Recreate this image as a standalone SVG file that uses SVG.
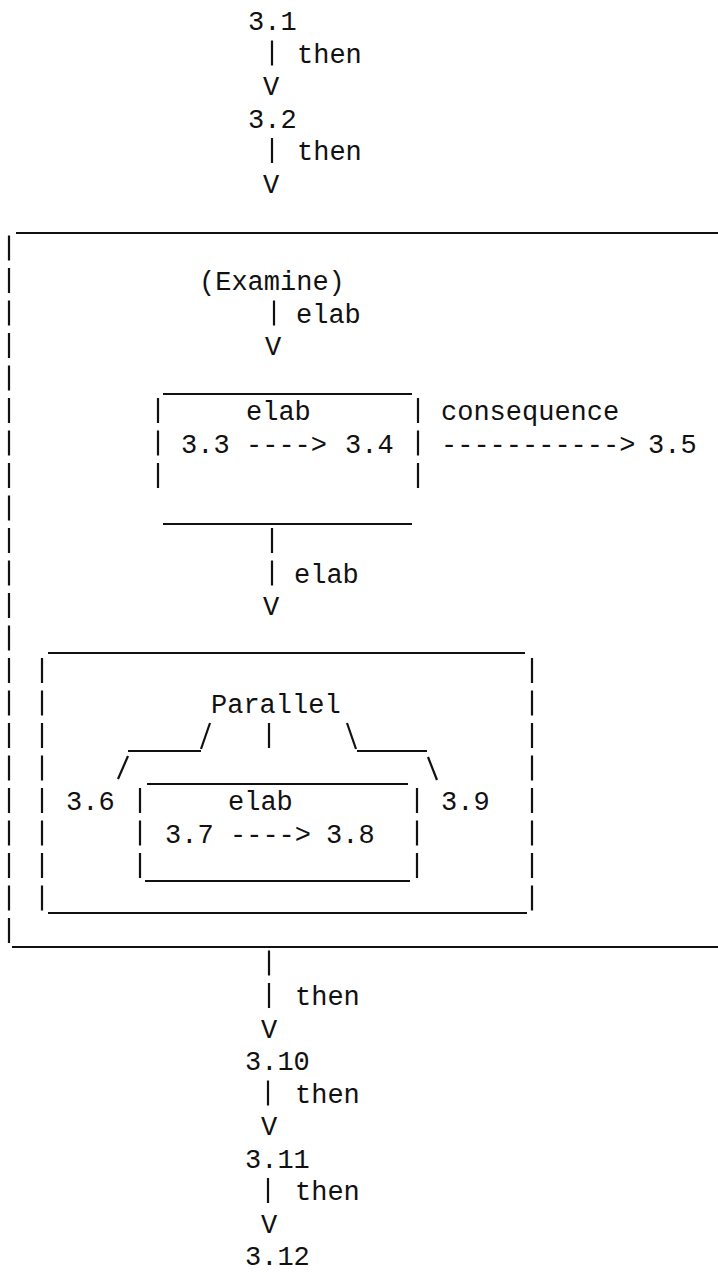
<svg xmlns="http://www.w3.org/2000/svg" width="718" height="1273" viewBox="0 0 718 1273">
<style>
text{font-family:"Liberation Mono","DejaVu Sans Mono",monospace;font-size:27px;fill:#111}
.v{text-anchor:middle}
.ln{stroke:#111;stroke-width:2.2;fill:none}
.dash{stroke:#111;stroke-width:2.2;fill:none;stroke-dasharray:25 7.5}
</style>
<rect width="718" height="1273" fill="#fff"/>

<g id="clusters">
  <g id="outer-box">
    <line class="ln" x1="16" y1="233" x2="718" y2="233"/>
    <line class="dash" x1="9" y1="235.5" x2="9" y2="943"/>
    <line class="ln" x1="12" y1="947" x2="718" y2="947"/>
  </g>
  <g id="box-3-3">
    <line class="ln" x1="163" y1="394" x2="412" y2="394"/>
    <line class="dash" x1="158" y1="398" x2="158" y2="488"/>
    <line class="dash" x1="418" y1="398" x2="418" y2="488"/>
    <line class="ln" x1="163" y1="524" x2="412" y2="524"/>
  </g>
  <g id="parallel-box">
    <line class="ln" x1="48" y1="653" x2="525" y2="653"/>
    <line class="dash" x1="42" y1="658" x2="42" y2="910.5"/>
    <line class="dash" x1="532" y1="658" x2="532" y2="910.5"/>
    <line class="ln" x1="48" y1="913" x2="527" y2="913"/>
  </g>
  <g id="box-3-7">
    <line class="ln" x1="147" y1="784" x2="408" y2="784"/>
    <line class="dash" x1="140" y1="788" x2="140" y2="878"/>
    <line class="dash" x1="417" y1="788" x2="417" y2="878"/>
    <line class="ln" x1="145" y1="881" x2="410" y2="881"/>
  </g>
</g>

<g id="n3-1"><text x="248" y="30">3.1</text></g>
<g id="n3-2"><text x="248" y="127.5">3.2</text></g>
<g id="examine"><text x="199" y="290">(Examine)</text></g>
<g id="n3-3"><text x="181" y="452.5">3.3</text></g>
<g id="n3-4"><text x="345" y="452.5">3.4</text></g>
<g id="n3-5"><text x="648" y="452.5">3.5</text></g>
<g id="parallel"><text x="211" y="712.5">Parallel</text></g>
<g id="n3-6"><text x="66" y="810">3.6</text></g>
<g id="n3-7"><text x="165" y="842.5">3.7</text></g>
<g id="n3-8"><text x="326" y="842.5">3.8</text></g>
<g id="n3-9"><text x="441" y="810">3.9</text></g>
<g id="n3-10"><text x="245" y="1070">3.10</text></g>
<g id="n3-11"><text x="245" y="1167.5">3.11</text></g>
<g id="n3-12"><text x="245" y="1265">3.12</text></g>

<g id="connectors">
  <!-- 3.1 -> 3.2 -->
  <line class="ln" x1="272" y1="40.5" x2="272" y2="65.5"/>
  <text x="297" y="62.5">then</text>
  <text class="v" x="271" y="95">V</text>
  <!-- 3.2 -> outer box -->
  <line class="ln" x1="272" y1="138" x2="272" y2="163"/>
  <text x="297" y="160">then</text>
  <text class="v" x="271" y="192.5">V</text>
  <!-- Examine -> box -->
  <line class="ln" x1="274" y1="300.5" x2="274" y2="325.5"/>
  <text x="296" y="322.5">elab</text>
  <text class="v" x="273" y="355">V</text>
  <!-- 3.3 -> 3.4 -->
  <text x="246" y="420">elab</text>
  <text x="246" y="452.5">----&gt;</text>
  <!-- consequence -> 3.5 -->
  <text x="441" y="420">consequence</text>
  <text x="441" y="452.5">-----------&gt;</text>
  <!-- box -> parallel -->
  <line class="ln" x1="272" y1="528" x2="272" y2="553"/>
  <line class="ln" x1="272" y1="560.5" x2="272" y2="585.5"/>
  <text x="294" y="582.5">elab</text>
  <text class="v" x="271" y="615">V</text>
  <!-- parallel branches -->
  <path class="ln" d="M210 723 L201 749 M201 751 H128 M128 756 L118 779"/>
  <line class="ln" x1="269" y1="723" x2="269" y2="748"/>
  <path class="ln" d="M347 723 L356 749 M357 751 H427 M428 757 L437 780"/>
  <!-- 3.7 -> 3.8 -->
  <text x="228" y="810">elab</text>
  <text x="230" y="842.5">----&gt;</text>
  <!-- outer box -> 3.10 -->
  <line class="ln" x1="269" y1="950.5" x2="269" y2="975.5"/>
  <line class="ln" x1="269" y1="983" x2="269" y2="1008"/>
  <text x="295" y="1005">then</text>
  <text class="v" x="269" y="1037.5">V</text>
  <!-- 3.10 -> 3.11 -->
  <line class="ln" x1="268" y1="1080.5" x2="268" y2="1105.5"/>
  <text x="295" y="1102.5">then</text>
  <text class="v" x="269" y="1135">V</text>
  <!-- 3.11 -> 3.12 -->
  <line class="ln" x1="268" y1="1178" x2="268" y2="1203"/>
  <text x="295" y="1200">then</text>
  <text class="v" x="269" y="1232.5">V</text>
</g>
</svg>
